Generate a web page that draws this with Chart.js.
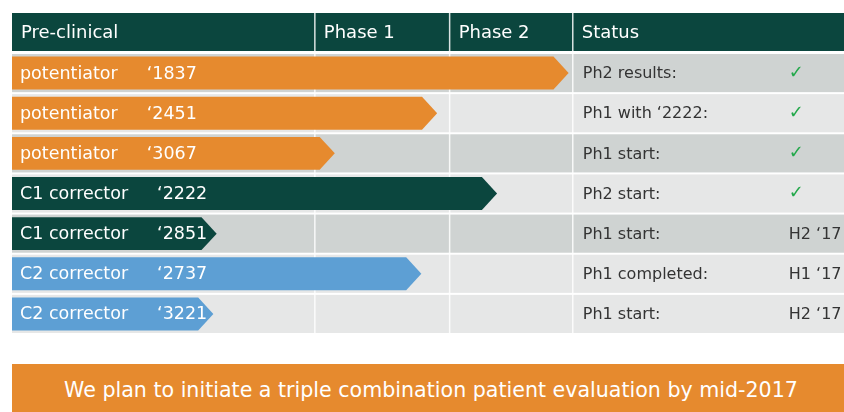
<!DOCTYPE html>
<html lang="en">
  <head>
    <meta charset="UTF-8" />
    <title>Pipeline</title>
    <style>
      body {
        margin: 0;
        background: #fff;
        font-family: "DejaVu Sans", sans-serif;
      }
      #wrap {
        position: relative;
        width: 844px;
        height: 412px;
        overflow: hidden;
      }
      #pipeline {
        position: absolute;
        left: 0;
        top: 0;
      }
      .banner {
        position: absolute;
        left: 12px;
        top: 364px;
        width: 832px;
        height: 48px;
        background: #e68a2e;
        color: #fff;
        font-size: 20.6px;
        line-height: 52px;
        text-align: center;
        text-indent: 6px;
        white-space: nowrap;
      }
    </style>
  </head>
  <body>
    <div id="wrap">
      <canvas id="pipeline" width="844" height="340"></canvas>
      <div class="banner">We plan to initiate a triple combination patient evaluation by mid-2017</div>
    </div>
  </body>
  <script src="https://cdn.jsdelivr.net/npm/chart.js"></script>
  <script>
    // データ
    const phases = ["Pre-clinical", "Phase 1", "Phase 2", "Status"];
    // column edges, % of table width
    const phaseEdges = [0, 36.4, 52.6, 67.4, 100];
    const compounds = ["potentiator", "potentiator", "potentiator", "C1 corrector", "C1 corrector", "C2 corrector", "C2 corrector"];
    const codes = ["\u20181837", "\u20182451", "\u20183067", "\u20182222", "\u20182851", "\u20182737", "\u20183221"];
    const classes = ["potentiator", "potentiator", "potentiator", "C1", "C1", "C2", "C2"];
    // arrow tip, % of table width
    const progress = [66.9, 51.1, 38.8, 58.3, 24.6, 49.2, 24.2];
    const statusLabels = ["Ph2 results:", "Ph1 with \u20182222:", "Ph1 start:", "Ph2 start:", "Ph1 start:", "Ph1 completed:", "Ph1 start:"];
    const statusValues = ["\u2713", "\u2713", "\u2713", "\u2713", "H2 \u201817", "H1 \u201817", "H2 \u201817"];

    const classColors = { potentiator: "#e68a2e", C1: "#0b463e", C2: "#5d9fd4" };
    const darkGreen = "#0b463e";
    const darkRows = [0, 2, 4];
    const font = '"DejaVu Sans", sans-serif';

    const tablePlugin = {
      id: "table",
      beforeDatasetsDraw(chart) {
        const c = chart.ctx;
        const area = chart.chartArea;
        const x = chart.scales.x;
        const n = compounds.length;
        const rowH = (area.bottom - area.top) / n;
        const edgePx = phaseEdges.map((v) => x.getPixelForValue(v));

        // header
        c.save();
        c.fillStyle = darkGreen;
        c.fillRect(area.left, 13, area.right - area.left, 38);
        c.fillStyle = "#fff";
        c.font = "18px " + font;
        c.textBaseline = "middle";
        phases.forEach((p, i) => c.fillText(p, edgePx[i] + 9, 33));

        // rows
        for (let i = 0; i < n; i++) {
          c.fillStyle = darkRows.includes(i) ? "#cfd3d2" : "#e6e7e7";
          c.fillRect(area.left, area.top + i * rowH + 1, area.right - area.left, rowH - 2);
        }
        // column dividers
        c.strokeStyle = "rgba(255,255,255,0.85)";
        c.lineWidth = 1.5;
        edgePx.slice(1, 4).forEach((px) => {
          c.beginPath();
          c.moveTo(px, 13);
          c.lineTo(px, area.bottom);
          c.stroke();
        });

        // arrows
        const meta = chart.getDatasetMeta(0);
        meta.data.forEach((bar, i) => {
          const h = bar.height;
          const top = bar.y - h / 2;
          const head = h * 0.46;
          c.fillStyle = classColors[classes[i]];
          c.beginPath();
          c.moveTo(bar.base, top);
          c.lineTo(bar.x - head, top);
          c.lineTo(bar.x, bar.y);
          c.lineTo(bar.x - head, top + h);
          c.lineTo(bar.base, top + h);
          c.closePath();
          c.fill();

          c.fillStyle = "#fff";
          c.font = "17.5px " + font;
          c.fillText(compounds[i], area.left + 8, bar.y + 1);
          const w = c.measureText(compounds[i]).width;
          c.fillText(codes[i], area.left + 8 + w + 29, bar.y + 1);

          c.fillStyle = "#333";
          c.font = "16px " + font;
          c.fillText(statusLabels[i], edgePx[3] + 10, bar.y + 1);
          if (statusValues[i] === "\u2713") {
            c.fillStyle = "#22a84a";
            c.font = "18px " + font;
            c.fillText(statusValues[i], edgePx[3] + 216, bar.y);
          } else {
            c.fillText(statusValues[i], edgePx[3] + 216, bar.y + 1);
          }
        });
        c.restore();
        return false;
      },
    };

    const ctx = document.getElementById("pipeline");
    window.chart = new Chart(ctx, {
      type: "bar",
      data: {
        labels: compounds.map((name, i) => name + " " + codes[i]),
        datasets: [
          {
            data: progress,
            backgroundColor: classes.map((k) => classColors[k]),
            barPercentage: 0.82,
            categoryPercentage: 1,
          },
        ],
      },
      options: {
        indexAxis: "y",
        responsive: false,
        animation: false,
        layout: { padding: { left: 12, right: 0, top: 53, bottom: 6 } },
        scales: {
          x: { min: 0, max: 100, display: false },
          y: { display: false },
        },
        plugins: {
          legend: { display: false },
          tooltip: { enabled: false },
        },
      },
      plugins: [tablePlugin],
    });
  </script>
</html>
